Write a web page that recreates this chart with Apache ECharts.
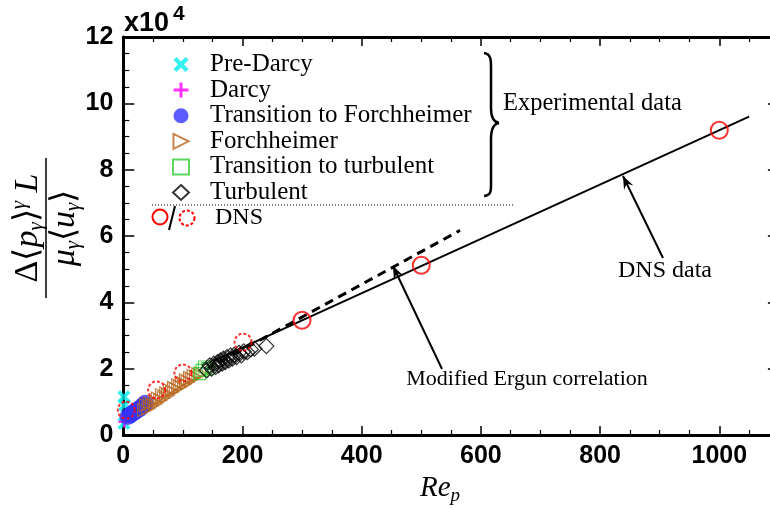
<!DOCTYPE html>
<html>
<head>
<meta charset="utf-8">
<script src="https://cdn.jsdelivr.net/npm/echarts@6/dist/echarts.min.js"></script>
<style>
html, body { margin: 0; padding: 0; background: #fff; }
#chart { width: 770px; height: 508px; }
</style>
</head>
<body>
<div id="chart"></div>
<script>
// Re_p vs dimensionless pressure drop
const preDarcy = [[1, 3500], [2, 9000], [1, 11500]];
const darcy = [[2, 4000], [4, 5200], [6, 6000]];
const transForch = [[8, 5600], [12, 6000], [15, 6500], [18, 6900], [22, 7300], [26, 7800], [30, 8400], [34, 9000], [37, 9600]];
const forchheimer = [
  [35, 7500], [38, 9000], [42, 8000], [45, 9500], [48, 8800], [52, 10000], [55, 9500], [58, 11000],
  [62, 10500], [65, 12000], [68, 11200], [72, 12500], [75, 12000], [78, 13500], [82, 13000], [85, 14200],
  [88, 13800], [92, 15000], [95, 14500], [98, 15800], [102, 15200], [105, 16500], [108, 16000],
  [112, 17200], [115, 16800], [118, 17800], [122, 17500], [126, 18200], [130, 18500]
];
const transTurb = [[128, 18500], [132, 19500], [136, 20500], [142, 20000]];
const turbulent = [
  [140, 19500], [145, 21000], [148, 20000], [152, 21500], [155, 20500], [158, 22000], [160, 21000],
  [163, 22500], [166, 21500], [168, 23000], [171, 22000], [174, 23500], [177, 22500], [180, 24000],
  [183, 23000], [186, 24200], [190, 23500], [194, 24800], [198, 24000], [202, 25200], [208, 25000],
  [214, 25800], [220, 26000], [240, 26800]
];
const dnsSolid = [[300, 34600], [500, 51200], [1000, 91900]];
const dnsDashed = [[5, 7500], [56, 13600], [100, 18700], [201, 28000]];
const dnsFit = [[150, 22300], [1050, 96000]];
const ergunFit = [[140, 19800], [565, 61700]];

const xTicks = { min: 0, max: 1200, interval: 200, minor: 4 };
const yTicks = { min: 0, max: 120000, interval: 20000, minor: 4 };

const chart = echarts.init(document.getElementById('chart'));

const serif = '"Liberation Serif", serif';
const sans = '"Liberation Sans", sans-serif';

const xPath = 'path://M0,2L2,0L5,3L8,0L10,2L7,5L10,8L8,10L5,7L2,10L0,8L3,5Z';
const plusPath = 'path://M4,0H6V4H10V6H6V10H4V6H0V4H4Z';
const triPath = 'path://M0,0L10,5L0,10Z';

function axisX(pos, labels) {
  return {
    type: 'value', position: pos, min: xTicks.min, max: xTicks.max, interval: xTicks.interval,
    axisLine: { show: true, onZero: false, lineStyle: { color: '#000', width: 3 } },
    axisTick: { show: true, inside: true, length: 9, lineStyle: { color: '#000', width: 1.5 } },
    minorTick: { show: true, splitNumber: xTicks.minor, length: 5, lineStyle: { color: '#000', width: 1.2 } },
    splitLine: { show: false },
    axisLabel: {
      show: labels, margin: 9, color: '#000', fontFamily: sans, fontWeight: 'bold', fontSize: 25,
      showMaxLabel: false, formatter: v => String(v)
    }
  };
}

function axisY(pos, labels, offset) {
  return {
    type: 'value', position: pos, offset: offset, min: yTicks.min, max: yTicks.max, interval: yTicks.interval,
    axisLine: { show: true, onZero: false, lineStyle: { color: '#000', width: 3 } },
    axisTick: { show: true, inside: true, length: 11, lineStyle: { color: '#000', width: 1.5 } },
    minorTick: { show: true, splitNumber: yTicks.minor, length: 6, lineStyle: { color: '#000', width: 1.2 } },
    splitLine: { show: false },
    axisLabel: {
      show: labels, margin: 10, color: '#000', fontFamily: sans, fontWeight: 'bold', fontSize: 25,
      formatter: v => String(v / 10000)
    }
  };
}

function arrow(x1, y1, x2, y2) {
  // line from tail (x1,y1) to tip (x2,y2) with a filled head
  const a = Math.atan2(y2 - y1, x2 - x1);
  const L = 14, w = 0.38;
  return [
    { type: 'line', shape: { x1: x1, y1: y1, x2: x2, y2: y2 }, style: { stroke: '#000', lineWidth: 2 } },
    {
      type: 'polygon',
      shape: { points: [[x2, y2], [x2 - L * Math.cos(a - w), y2 - L * Math.sin(a - w)], [x2 - L * 0.6 * Math.cos(a), y2 - L * 0.6 * Math.sin(a)], [x2 - L * Math.cos(a + w), y2 - L * Math.sin(a + w)]] },
      style: { fill: '#000' }
    }
  ];
}

function curve(x1, y1, c1x, c1y, c2x, c2y, x2, y2) {
  return { type: 'bezierCurve', shape: { x1: x1, y1: y1, cpx1: c1x, cpy1: c1y, cpx2: c2x, cpy2: c2y, x2: x2, y2: y2 }, style: { fill: null, stroke: '#000', lineWidth: 2.5 } };
}
function seg(x1, y1, x2, y2, w) {
  return { type: 'line', shape: { x1: x1, y1: y1, x2: x2, y2: y2 }, style: { stroke: '#000', lineWidth: w || 2.5 } };
}

const richY = {
  n: { fontFamily: serif, fontSize: 34, lineHeight: 38 },
  i: { fontFamily: serif, fontStyle: 'italic', fontSize: 34, lineHeight: 38 },
  s: { fontFamily: serif, fontStyle: 'italic', fontSize: 21, lineHeight: 21, verticalAlign: 'bottom' },
  p: { fontFamily: serif, fontStyle: 'italic', fontSize: 21, lineHeight: 21, verticalAlign: 'top' }
};

let graphics = [
  // x10^4 multiplier
  { type: 'text', x: 124, y: 24, style: { text: 'x10', fontFamily: sans, fontWeight: 'bold', fontSize: 27, fill: '#000', verticalAlign: 'middle' } },
  { type: 'text', x: 173, y: 14, style: { text: '4', fontFamily: sans, fontWeight: 'bold', fontSize: 21, fill: '#000', verticalAlign: 'middle' } },
  // y axis title (fraction)
  {
    type: 'group', x: 46, y: 228, rotation: Math.PI / 2, children: [
      { type: 'line', shape: { x1: -70, y1: 0, x2: 70, y2: 0 }, style: { stroke: '#000', lineWidth: 1.5 } },
      { type: 'text', x: 0, y: 1, style: { text: '{n|Δ⟨}{i|p}{s|γ}{n|⟩}{p|γ}{i| L}', rich: richY, align: 'center', verticalAlign: 'bottom', fill: '#000' } },
      { type: 'text', x: 0, y: 0, style: { text: '{i|μ}{s|γ}{n|⟨}{i|u}{s|γ}{n|⟩}', rich: richY, align: 'center', verticalAlign: 'top', fill: '#000' } }
    ]
  },
  // x axis title
  {
    type: 'text', x: 440, y: 488, style: {
      text: '{i|Re}{s|p}', align: 'center', verticalAlign: 'middle', fill: '#000',
      rich: {
        i: { fontFamily: serif, fontStyle: 'italic', fontSize: 29, lineHeight: 34 },
        s: { fontFamily: serif, fontStyle: 'italic', fontSize: 19, lineHeight: 19, verticalAlign: 'bottom' }
      }
    }
  },
  // brace grouping the experimental legend entries
  curve(484, 53, 492, 54, 491, 62, 491, 72),
  seg(491, 72, 491, 108),
  curve(491, 108, 491, 117, 493, 122, 499, 123),
  curve(499, 123, 493, 124, 491, 130, 491, 139),
  seg(491, 139, 491, 180),
  curve(491, 180, 491, 190, 492, 195, 484, 196),
  { type: 'text', x: 503, y: 104, style: { text: 'Experimental data', fontFamily: serif, fontSize: 24.5, fill: '#000', verticalAlign: 'middle' } },
  // dotted separator
  { type: 'line', shape: { x1: 152, y1: 205, x2: 513, y2: 205 }, style: { stroke: '#000', lineWidth: 1, lineDash: [1, 2] } },
  // DNS legend entry
  { type: 'circle', shape: { cx: 160, cy: 217, r: 7.5 }, style: { fill: null, stroke: '#ff0000', lineWidth: 2 } },
  seg(169, 230, 175, 206, 2),
  { type: 'circle', shape: { cx: 187, cy: 218, r: 7.5 }, style: { fill: null, stroke: '#ff0000', lineWidth: 2, lineDash: [3, 2] } },
  { type: 'text', x: 215, y: 218, style: { text: 'DNS', fontFamily: serif, fontSize: 24, fill: '#000', verticalAlign: 'middle' } },
  // annotations
  { type: 'text', x: 665, y: 271, style: { text: 'DNS data', fontFamily: serif, fontSize: 24, fill: '#000', align: 'center', verticalAlign: 'middle' } },
  { type: 'text', x: 527, y: 379, style: { text: 'Modified Ergun correlation', fontFamily: serif, fontSize: 22, fill: '#000', align: 'center', verticalAlign: 'middle' } }
];
graphics = graphics.concat(arrow(663, 258, 623, 176), arrow(442, 369, 393, 266));

const hollow = c => ({ color: 'rgba(0,0,0,0)', borderColor: c, borderWidth: 1.2 });

const option = {
  animation: false,
  backgroundColor: '#fff',
  grid: { left: 123.3, top: 37, width: 715.2, height: 398, containLabel: false, outerBoundsMode: 'none' },
  xAxis: [axisX('bottom', true), axisX('top', false)],
  yAxis: [axisY('left', true, 0), axisY('right', false, -59.6)],
  legend: {
    orient: 'vertical', left: 167, top: 47, itemWidth: 16, itemHeight: 15, itemGap: 0.6,
    data: ['Pre-Darcy', 'Darcy', 'Transition to Forchheimer', 'Forchheimer', 'Transition to turbulent', 'Turbulent'],
    textStyle: { fontFamily: serif, fontSize: 25, color: '#000', lineHeight: 24, padding: [0, 0, 0, 16] }
  },
  graphic: graphics,
  series: [
    { name: 'Modified Ergun', type: 'line', data: ergunFit, symbol: 'none', lineStyle: { color: '#000', width: 3, type: [9, 6] }, z: 1 },
    { name: 'DNS fit', type: 'line', data: dnsFit, symbol: 'none', lineStyle: { color: '#000', width: 2 }, z: 1 },
    { name: 'Pre-Darcy', type: 'scatter', data: preDarcy, symbol: xPath, symbolSize: 13, itemStyle: { color: '#00eeee' } },
    { name: 'Darcy', type: 'scatter', data: darcy, symbol: plusPath, symbolSize: 12, itemStyle: { color: '#ff00ff' } },
    { name: 'Transition to Forchheimer', type: 'scatter', data: transForch, symbol: 'circle', symbolSize: 17, itemStyle: { color: '#3535ff' } },
    { name: 'Forchheimer', type: 'scatter', data: forchheimer, symbol: triPath, symbolSize: 13, itemStyle: hollow('#b8661e') },
    { name: 'Transition to turbulent', type: 'scatter', data: transTurb, symbol: 'rect', symbolSize: 12, itemStyle: hollow('#33cc33') },
    { name: 'Turbulent', type: 'scatter', data: turbulent, symbol: 'diamond', symbolSize: 15, itemStyle: hollow('#000') },
    { name: 'DNS', type: 'scatter', data: dnsSolid, symbol: 'circle', symbolSize: 17, itemStyle: { color: 'rgba(0,0,0,0)', borderColor: '#ff0000', borderWidth: 2 }, z: 5 },
    { name: 'DNS dashed', type: 'scatter', data: dnsDashed, symbol: 'circle', symbolSize: 17, itemStyle: { color: 'rgba(0,0,0,0)', borderColor: '#ff0000', borderWidth: 2, borderType: [3, 2] }, z: 5 }
  ]
};

chart.setOption(option);
</script>
</body>
</html>
